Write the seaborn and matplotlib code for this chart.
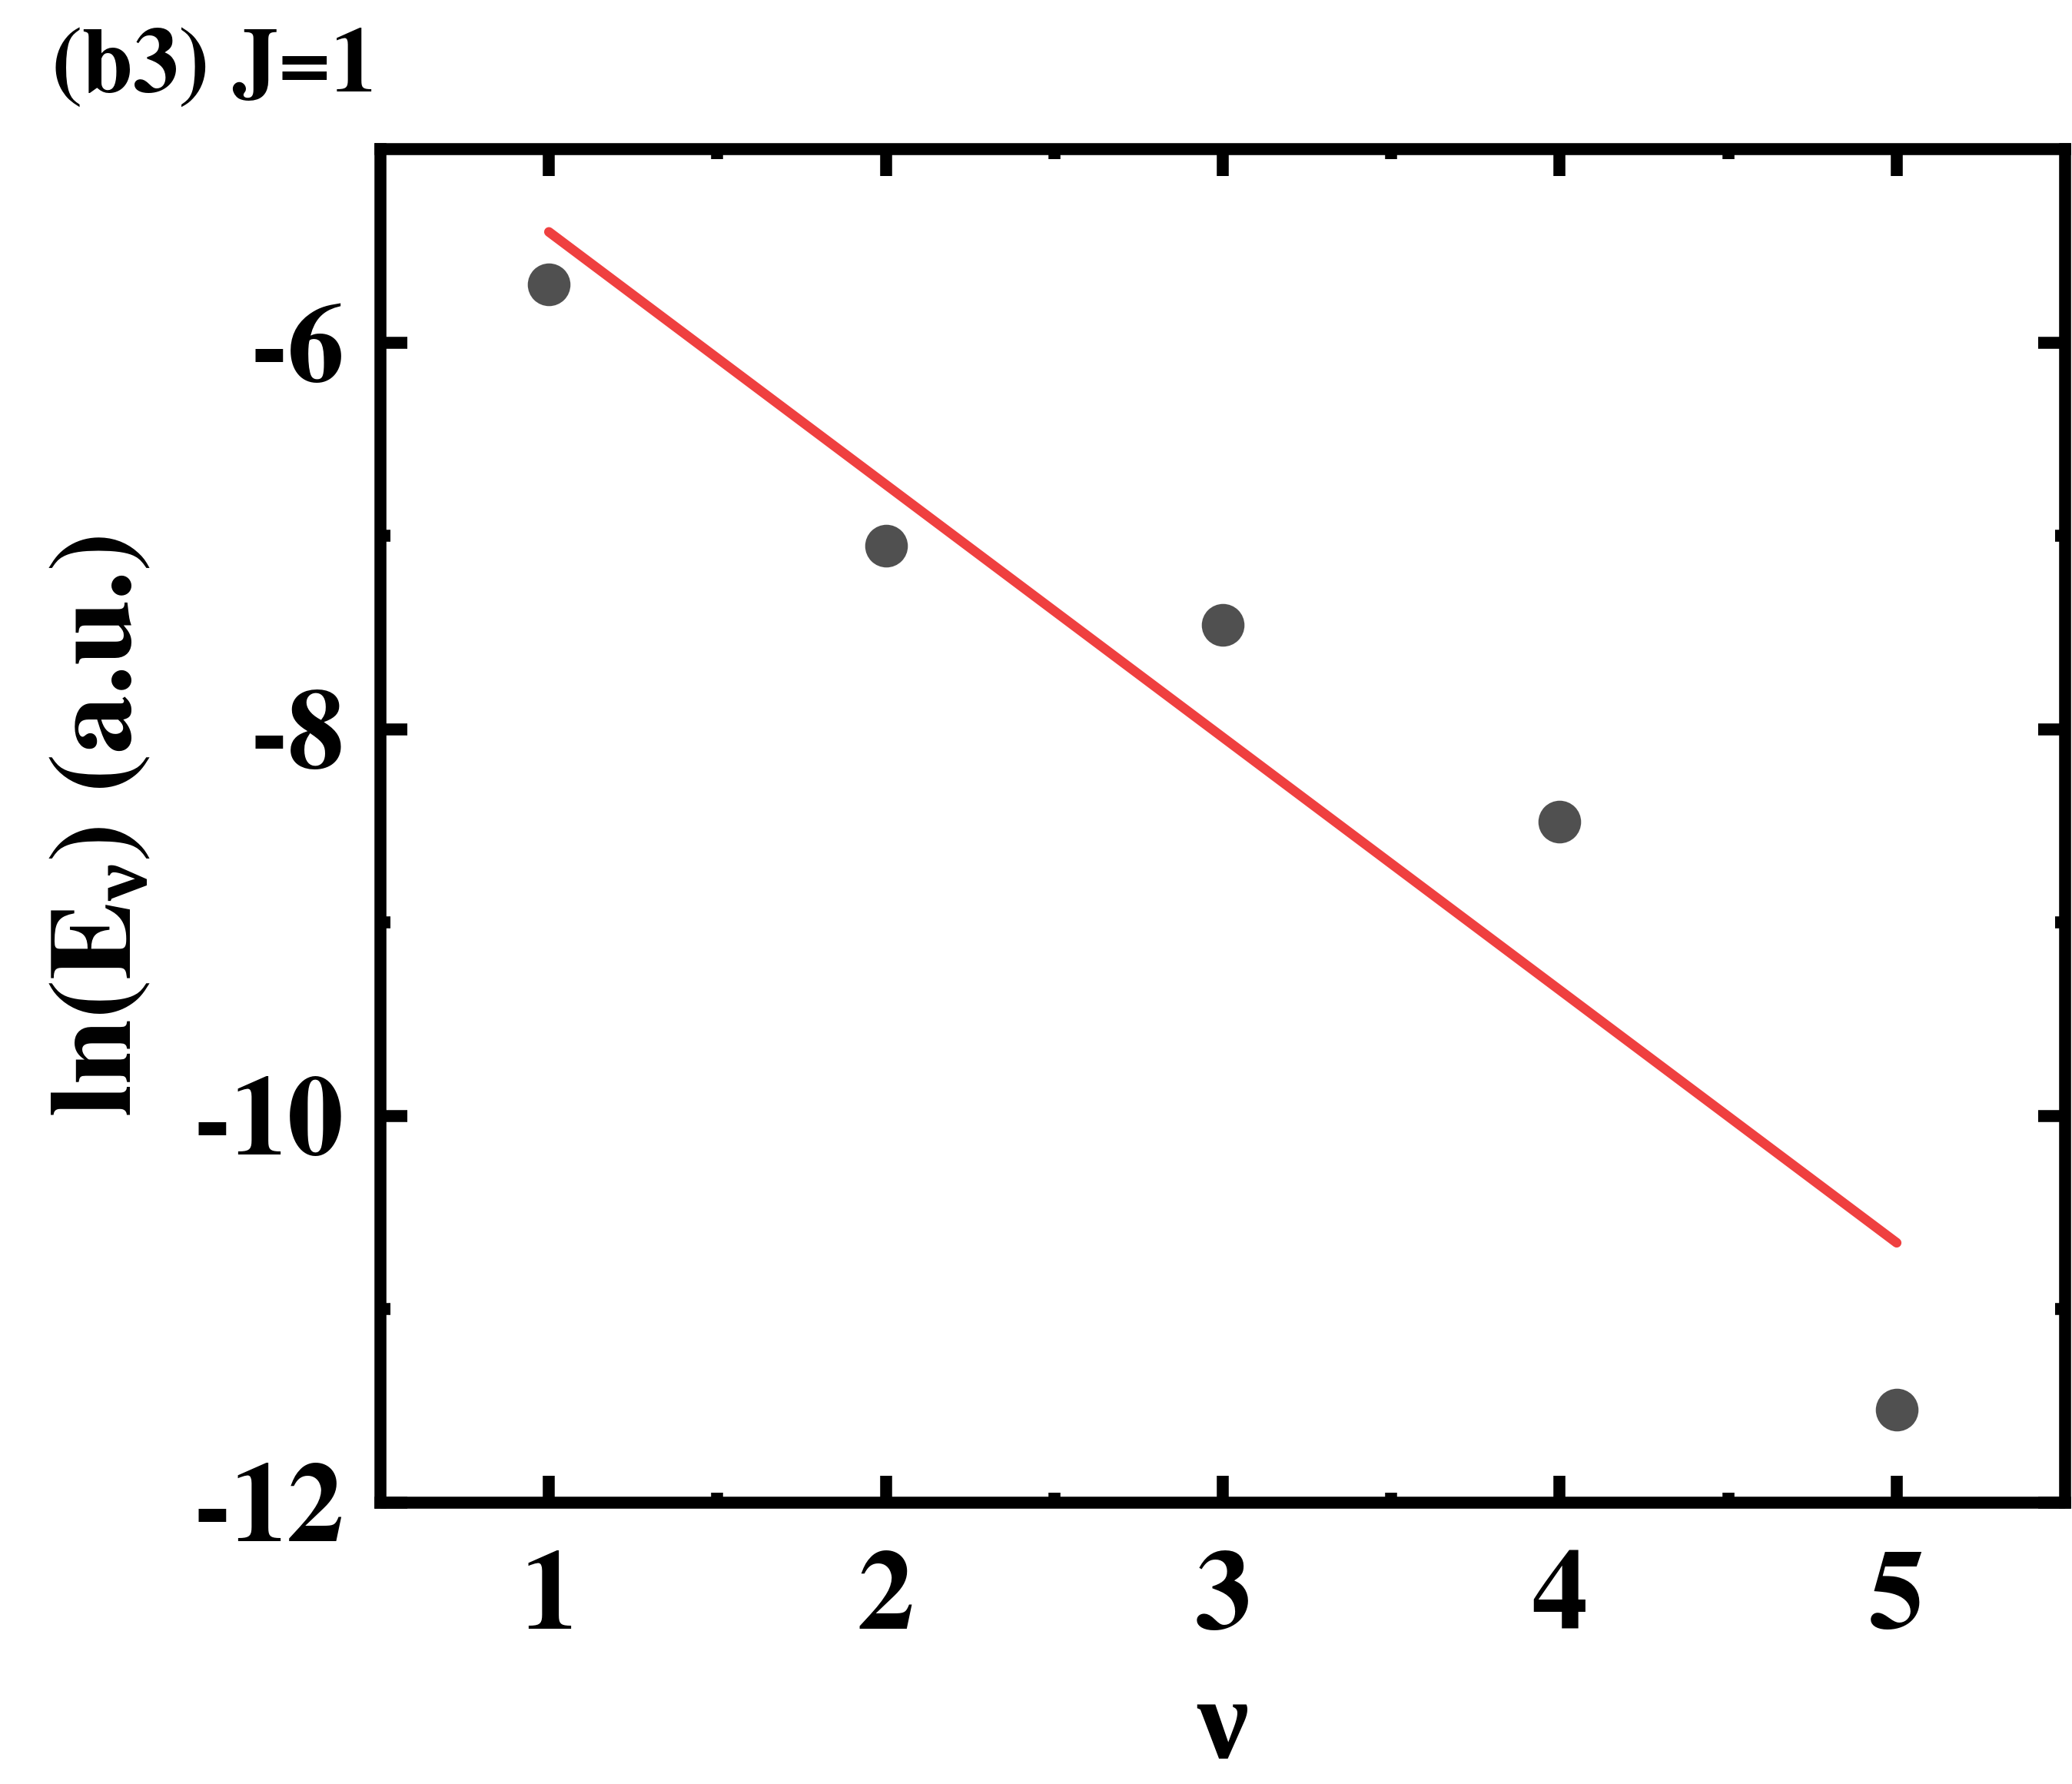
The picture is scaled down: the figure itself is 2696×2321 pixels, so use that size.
import numpy as np
import pandas as pd
import matplotlib
matplotlib.use('Agg')
import matplotlib.pyplot as plt
import seaborn as sns

# data
nu = [1, 2, 3, 4, 5]
ln_E = [-5.70, -7.05, -7.46, -8.48, -11.52]
x_ticks = [1, 2, 3, 4, 5]
y_ticks = [-12, -10, -8, -6]

sns.set_theme(style='white')
plt.rcParams['font.family'] = ['TeX Gyre Termes', 'Liberation Serif', 'DejaVu Serif']
plt.rcParams['font.weight'] = 'bold'
plt.rcParams['axes.unicode_minus'] = False
plt.rcParams['text.color'] = 'black'
plt.rcParams['axes.labelcolor'] = 'black'
plt.rcParams['xtick.color'] = 'black'
plt.rcParams['ytick.color'] = 'black'
plt.rcParams['mathtext.fontset'] = 'custom'
plt.rcParams['mathtext.rm'] = 'TeX Gyre Termes:bold'
plt.rcParams['mathtext.it'] = 'Liberation Serif:bold'
plt.rcParams['mathtext.bf'] = 'TeX Gyre Termes:bold'
plt.rcParams['mathtext.fallback'] = 'stix'

fig = plt.figure(figsize=(13.48, 11.605), dpi=200)
ax = fig.add_axes([0.1836, 0.1577, 0.8131, 0.7587])

df = pd.DataFrame({'nu': nu, 'lnE': ln_E})
sns.regplot(data=df, x='nu', y='lnE', ci=None, ax=ax,
            scatter_kws=dict(s=400, color='#505050', linewidths=0, alpha=1, zorder=3),
            line_kws=dict(color='#EF4040', lw=4.5, solid_capstyle='round', zorder=2))

ax.set_xlim(0.5, 5.5)
ax.set_ylim(-12, -5)
ax.set_xticks(x_ticks)
ax.set_xticks([1.5, 2.5, 3.5, 4.5], minor=True)
ax.set_yticks(y_ticks)
ax.set_yticks([-11, -9, -7], minor=True)
ax.set_xticklabels([str(v) for v in x_ticks])
ax.set_yticklabels([str(v) for v in y_ticks])

for s in ax.spines.values():
    s.set_linewidth(5.6)
    s.set_color('black')
    s.set_visible(True)

ax.tick_params(which='major', direction='in', top=True, right=True, bottom=True, left=True,
               length=12.6, width=5.6, color='black', labelcolor='black', labelsize=53)
ax.tick_params(axis='x', which='major', pad=23)
ax.tick_params(axis='y', which='major', pad=17)
ax.tick_params(which='minor', direction='in', top=True, right=True, bottom=True, left=True,
               length=4.7, width=5.6, color='black')
for lab in ax.get_xticklabels() + ax.get_yticklabels():
    lab.set_fontweight('bold')

ax.set_xlabel('ν', fontsize=54, fontweight='bold', labelpad=12, color='black',
              family=['Liberation Serif', 'DejaVu Serif'])
ax.set_ylabel(r'ln(E$_{\nu}$) (a.u.)', fontsize=55, fontweight='bold', labelpad=18, color='black')

fig.text(0.025, 0.949, '(b3) J=1', fontsize=43, fontweight='bold', ha='left', va='baseline', color='black')

fig.savefig('out.png', dpi=200, facecolor='white')
